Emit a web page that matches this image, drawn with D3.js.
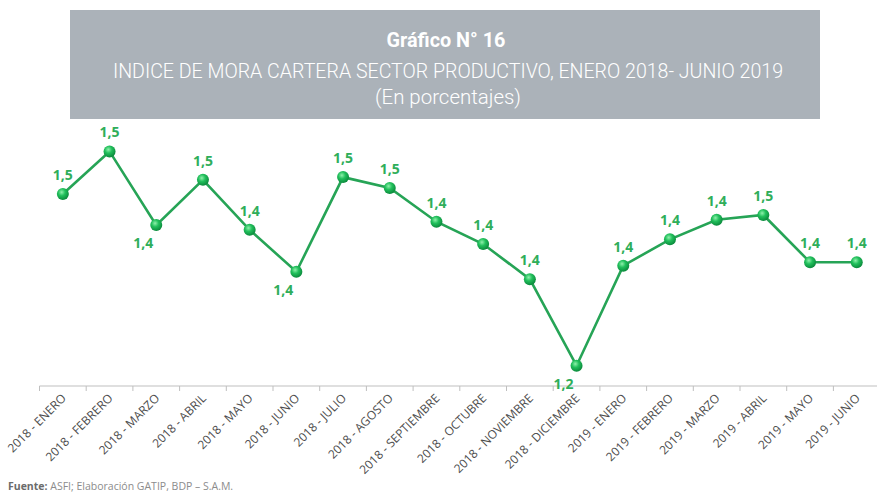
<!DOCTYPE html>
<html lang="es">
<head>
<meta charset="utf-8">
<title>Gráfico N° 16</title>
<script src="https://cdn.jsdelivr.net/npm/d3@7"></script>
<style>
  body { margin: 0; background: #fff; }
  svg { display: block; }
  .title text { fill: #fff; font-family: Roboto, sans-serif; }
  .xaxis text { font-family: "Open Sans", sans-serif; font-size: 12px; fill: #4d4d4d; }
  .xaxis path, .xaxis line { stroke: #bfbfbf; }
  .lbl { font-family: "Open Sans", sans-serif; font-weight: 700; font-size: 14px; fill: #2fae5a; }
  .src { font-family: "Open Sans", sans-serif; font-size: 10.5px; fill: #8c8c8c; }
</style>
</head>
<body>
<script>
// datos del gráfico
var meses = ["2018 - ENERO", "2018 - FEBRERO", "2018 - MARZO", "2018 - ABRIL", "2018 - MAYO",
             "2018 - JUNIO", "2018 - JULIO", "2018 - AGOSTO", "2018 - SEPTIEMBRE", "2018 - OCTUBRE",
             "2018 - NOVIEMBRE", "2018 - DICIEMBRE", "2019 - ENERO", "2019 - FEBRERO", "2019 - MARZO",
             "2019 - ABRIL", "2019 - MAYO", "2019 - JUNIO"];
var mora = [1.484, 1.547, 1.438, 1.505, 1.431, 1.369, 1.509, 1.493, 1.443, 1.410,
            1.358, 1.230, 1.378, 1.417, 1.446, 1.453, 1.383, 1.383];
var yDominio = [1.2, 1.6];

var width = 877, height = 493;

var svg = d3.select("body").append("svg")
    .attr("width", width)
    .attr("height", height);

// degradado para los marcadores
var grad = svg.append("defs").append("radialGradient")
    .attr("id", "bola").attr("cx", "40%").attr("cy", "35%").attr("r", "65%");
grad.append("stop").attr("offset", "0%").attr("stop-color", "#8ff0ab");
grad.append("stop").attr("offset", "45%").attr("stop-color", "#22c05c");
grad.append("stop").attr("offset", "100%").attr("stop-color", "#0b8a3c");

// cabecera gris
var head = svg.append("g").attr("class", "title");
head.append("rect")
    .attr("x", 70).attr("y", 10).attr("width", 750).attr("height", 109)
    .attr("fill", "#abb2b9");
head.append("text")
    .attr("x", 446).attr("y", 47)
    .attr("text-anchor", "middle")
    .attr("textLength", 119).attr("lengthAdjust", "spacingAndGlyphs")
    .style("font-weight", 700).style("font-size", "20px")
    .text("Gráfico N° 16");
head.append("text")
    .attr("x", 448).attr("y", 78)
    .attr("text-anchor", "middle")
    .attr("textLength", 670).attr("lengthAdjust", "spacingAndGlyphs")
    .style("font-weight", 300).style("font-size", "21px")
    .text("INDICE DE MORA CARTERA SECTOR PRODUCTIVO, ENERO 2018- JUNIO 2019");
head.append("text")
    .attr("x", 448).attr("y", 104)
    .attr("text-anchor", "middle")
    .attr("textLength", 146).attr("lengthAdjust", "spacingAndGlyphs")
    .style("font-weight", 300).style("font-size", "21px")
    .text("(En porcentajes)");

// escalas
var x = d3.scaleBand().domain(meses).range([39.5, 39.5 + 46.7 * meses.length]);
var y = d3.scaleLinear().domain(yDominio).range([386, 386 - 0.4 * 676]);

// eje x
var ax = svg.append("g")
    .attr("class", "xaxis")
    .attr("transform", "translate(0,386)")
    .call(d3.axisBottom(x).tickSize(0).tickSizeOuter(0));
ax.select(".domain").attr("d", "M39.5,0H877");
ax.selectAll(".sep")
    .data(meses)
    .enter().append("line")
    .attr("x1", function(d) { return x(d); })
    .attr("x2", function(d) { return x(d); })
    .attr("y1", 0).attr("y2", 5);
ax.selectAll(".tick text")
    .attr("text-anchor", "end")
    .attr("dy", null).attr("y", 0)
    .attr("transform", "translate(4,13) rotate(-45)");

var cx = function(d, i) { return x(meses[i]) + x.bandwidth() / 2; };

// línea
var linea = d3.line()
    .x(function(d, i) { return cx(d, i); })
    .y(function(d) { return y(d); });
svg.append("path")
    .datum(mora)
    .attr("d", linea)
    .attr("fill", "none")
    .attr("stroke", "#26a456")
    .attr("stroke-width", 2.6);

// marcadores
svg.selectAll(".pt")
    .data(mora)
    .enter().append("circle")
    .attr("class", "pt")
    .attr("cx", cx)
    .attr("cy", function(d) { return y(d); })
    .attr("r", 6)
    .attr("fill", "url(#bola)");

// etiquetas: debajo en los mínimos locales
var fmt = d3.format(".1f");
function esMin(i) {
  return i > 0 && i < mora.length - 1 && mora[i] < mora[i - 1] && mora[i] < mora[i + 1];
}
svg.selectAll(".lbl")
    .data(mora)
    .enter().append("text")
    .attr("class", "lbl")
    .attr("text-anchor", "middle")
    .attr("x", function(d, i) { return cx(d, i) + (esMin(i) ? -13 : 0); })
    .attr("y", function(d, i) { return y(d) + (esMin(i) ? 23 : -14); })
    .text(function(d) { return fmt(d).replace(".", ","); });

// fuente
var src = svg.append("text").attr("class", "src").attr("x", 8).attr("y", 490);
src.append("tspan").style("font-weight", 700).attr("fill", "#6b6b6b").text("Fuente:");
src.append("tspan").text(" ASFI; Elaboración GATIP, BDP – S.A.M.");
</script>
</body>
</html>
